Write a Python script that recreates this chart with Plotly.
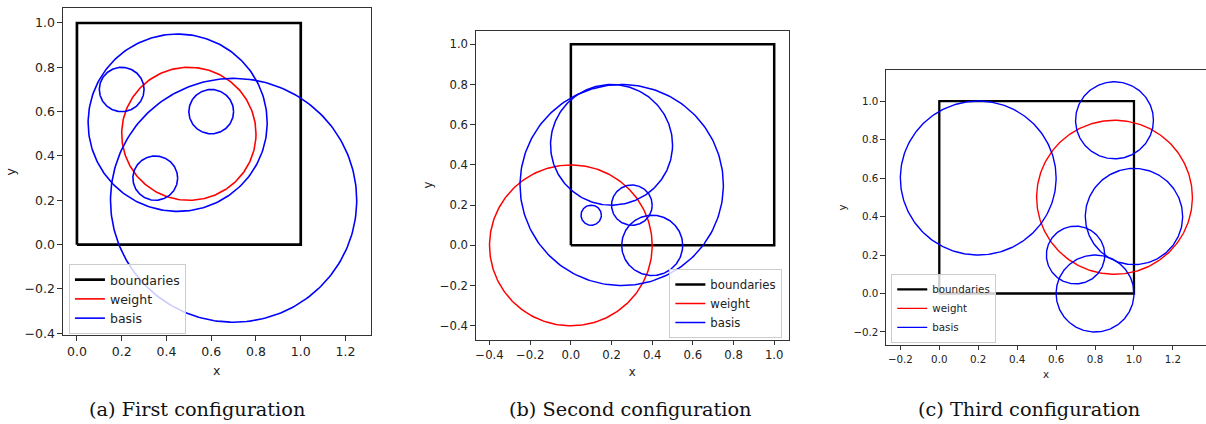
import numpy as np
import plotly.graph_objects as go

W, H = 1206, 424

# Unit-square boundary shared by every configuration
boundary_x = [0, 1, 1, 0, 0]
boundary_y = [0, 0, 1, 1, 0]

# (a) First configuration
a_weight_center = (0.5, 0.5)
a_weight_radius = 0.3
a_basis_x = [0.2, 0.6, 0.35, 0.45, 0.7]
a_basis_y = [0.7, 0.6, 0.3, 0.55, 0.2]
a_basis_r = [0.1, 0.1, 0.1, 0.4, 0.55]

# (b) Second configuration
b_weight_center = (0.0, 0.0)
b_weight_radius = 0.4
b_basis_x = [0.2, 0.25, 0.3, 0.1, 0.4]
b_basis_y = [0.5, 0.3, 0.2, 0.15, 0.0]
b_basis_r = [0.3, 0.5, 0.1, 0.05, 0.15]

# (c) Third configuration
c_weight_center = (0.9, 0.5)
c_weight_radius = 0.4
c_basis_x = [0.2, 0.9, 1.0, 0.7, 0.8]
c_basis_y = [0.6, 0.9, 0.4, 0.2, 0.0]
c_basis_r = [0.4, 0.2, 0.25, 0.15, 0.2]

captions = ["(a) First configuration", "(b) Second configuration", "(c) Third configuration"]

# Panel boxes in pixels (left, right, top, bottom) and data ranges (equal aspect)
panels = [
    dict(box=(62, 370, 8, 339.5), xr=(-0.0625, 1.3125), yr=(-0.41, 1.068),
         xt=[0, 0.2, 0.4, 0.6, 0.8, 1.0, 1.2], yt=[-0.4, -0.2, 0, 0.2, 0.4, 0.6, 0.8, 1.0],
         font=12.5, bw=2.7, cw=1.6, legend=dict(x=68, y=338, xanchor="left"),
         cap_x=196, mirror_y=True, xstand=8, ystand=6,
         weight=(a_weight_center, a_weight_radius), basis=(a_basis_x, a_basis_y, a_basis_r)),
    dict(box=(475.3, 788.3, 31, 343.7), xr=(-0.467, 1.071), yr=(-0.469, 1.068),
         xt=[-0.4, -0.2, 0, 0.2, 0.4, 0.6, 0.8, 1.0], yt=[-0.4, -0.2, 0, 0.2, 0.4, 0.6, 0.8, 1.0],
         font=11.7, bw=2.5, cw=1.5, legend=dict(x=782, y=342, xanchor="right"),
         cap_x=630.5, mirror_y=True, xstand=6, ystand=4,
         weight=(b_weight_center, b_weight_radius), basis=(b_basis_x, b_basis_y, b_basis_r)),
    dict(box=(885.7, 1206, 70.7, 349), xr=(-0.274, 1.370), yr=(-0.267, 1.162),
         xt=[-0.2, 0, 0.2, 0.4, 0.6, 0.8, 1.0, 1.2], yt=[-0.2, 0, 0.2, 0.4, 0.6, 0.8, 1.0],
         font=10.3, bw=2.3, cw=1.4, legend=dict(x=891, y=347, xanchor="left"),
         cap_x=1029, mirror_y=False, xstand=7, ystand=4,
         weight=(c_weight_center, c_weight_radius), basis=(c_basis_x, c_basis_y, c_basis_r)),
]

theta = np.linspace(0, 2 * np.pi, 241)


def circle(cx, cy, r):
    return cx + r * np.cos(theta), cy + r * np.sin(theta)


fig = go.Figure()
layout = dict(width=W, height=H, margin=dict(l=0, r=0, t=0, b=0),
              paper_bgcolor="white", plot_bgcolor="white", showlegend=True)

spine = "#333333"
for i, p in enumerate(panels):
    k = "" if i == 0 else str(i + 1)
    xa, ya = "x" + k, "y" + k
    lg = "legend" + k
    l, r, t, b = p["box"]
    fs = p["font"]

    fig.add_trace(go.Scatter(x=boundary_x, y=boundary_y, mode="lines", name="boundaries",
                             line=dict(color="black", width=p["bw"]),
                             xaxis=xa, yaxis=ya, legend=lg))
    (wx, wy), wr = p["weight"]
    cx, cy = circle(wx, wy, wr)
    fig.add_trace(go.Scatter(x=cx, y=cy, mode="lines", name="weight",
                             line=dict(color="red", width=p["cw"]),
                             xaxis=xa, yaxis=ya, legend=lg))
    bx, by, br = p["basis"]
    for j, (x0, y0, r0) in enumerate(zip(bx, by, br)):
        cx, cy = circle(x0, y0, r0)
        fig.add_trace(go.Scatter(x=cx, y=cy, mode="lines", name="basis",
                                 legendgroup="basis" + k, showlegend=(j == 0),
                                 line=dict(color="blue", width=p["cw"]),
                                 xaxis=xa, yaxis=ya, legend=lg))

    common = dict(showgrid=False, zeroline=False, showline=True, linecolor=spine, linewidth=1,
                  ticks="outside", ticklen=4.5, tickwidth=1, tickcolor=spine,
                  tickformat=".1f", tickfont=dict(family="DejaVu Sans", size=fs, color="#222"))
    layout["xaxis" + k] = dict(common, domain=[l / W, r / W], range=list(p["xr"]),
                               tickvals=p["xt"], mirror=True, anchor=ya,
                               title=dict(text="x", standoff=p["xstand"],
                                          font=dict(family="DejaVu Sans", size=fs, color="#222")))
    layout["yaxis" + k] = dict(common, domain=[1 - b / H, 1 - t / H], range=list(p["yr"]),
                               tickvals=p["yt"], mirror=p["mirror_y"], anchor=xa,
                               title=dict(text="y", standoff=p["ystand"],
                                          font=dict(family="DejaVu Sans", size=fs, color="#222")))
    lp = p["legend"]
    layout[lg] = dict(x=lp["x"] / W, y=1 - lp["y"] / H, xanchor=lp["xanchor"], yanchor="bottom",
                      xref="paper", yref="paper",
                      bgcolor="rgba(255,255,255,0.8)", bordercolor="#cccccc", borderwidth=1,
                      font=dict(family="DejaVu Sans", size=fs, color="#222"),
                      itemwidth=30, tracegroupgap=0)

fig.update_layout(**layout)

for i, p in enumerate(panels):
    fig.add_annotation(text=captions[i], x=p["cap_x"] / W, y=1 - 414 / H, xref="paper", yref="paper",
                       xanchor="center", yanchor="middle", showarrow=False,
                       font=dict(family="DejaVu Serif", size=19.3, color="#111"))

fig.write_html("out.html")
